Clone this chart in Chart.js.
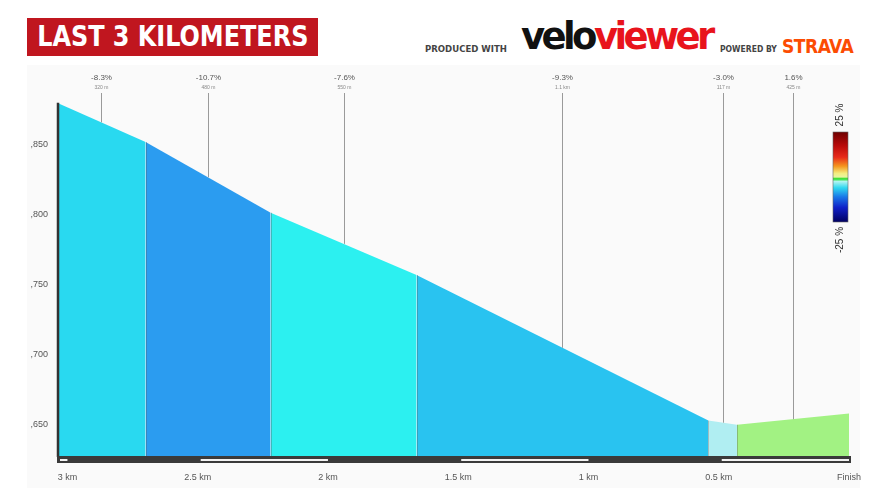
<!DOCTYPE html>
<html>
<head>
<meta charset="utf-8">
<script src="https://cdn.jsdelivr.net/npm/chart.js@4/dist/chart.umd.min.js"></script>
<style>
  html, body { margin: 0; padding: 0; background: #fff; }
  #wrap { position: relative; width: 873px; height: 488px; overflow: hidden; background: #fff; }
  #panel { position: absolute; left: 27px; top: 65px; width: 833px; height: 423px; background: #fafafa; }
  #title { position: absolute; left: 27px; top: 18px; width: 291px; height: 38px; background: #c0161f;
           color: #fff; font: bold 28px 'DejaVu Sans Condensed', sans-serif;
           line-height: 38px; text-align: center; overflow: hidden; }
  #title span { display: inline-block; transform: scaleX(0.95); transform-origin: center; white-space: nowrap; }
  .small { position: absolute; font: bold 9.5px 'DejaVu Sans Condensed', sans-serif; color: #444; }
  #velo { position: absolute; left: 521px; top: 15px; font: 900 37px 'DejaVu Sans', sans-serif; letter-spacing: -3.6px; }
  #strava { position: absolute; left: 782px; top: 35px; font: bold 19px 'DejaVu Sans Condensed', sans-serif; color: #fc4c02; letter-spacing: -0.5px; }
  canvas { position: absolute; left: 0; top: 0; }
</style>
</head>
<body>
<div id="wrap">
  <div id="panel"></div>
  <div id="title"><span>LAST 3 KILOMETERS</span></div>
  <div class="small" style="left:425px; top:43px;">PRODUCED WITH</div>
  <div id="velo"><span style="color:#111">velo</span><span style="color:#e8141c">viewer</span></div>
  <div class="small" style="left:720px; top:44px; font-size:8.5px;">POWERED BY</div>
  <div id="strava">STRAVA</div>
  <canvas id="c" width="873" height="488"></canvas>
</div>
<script>
// profile: distance to finish (km) and elevation (m)
const PROFILE_KM = [3.04, 2.70, 2.22, 1.66, 0.54, 0.43, 0];
const PROFILE_ELEV = [1880, 1852, 1801.5, 1757, 1653, 1650, 1658];

// one entry per segment
const SEG_COLORS = ['#29d9f0', '#2b9cf0', '#2cf0f0', '#29c3f0', '#b0eef2', '#a2f283'];
const SEG_GRADE = ['-8.3%', '-10.7%', '-7.6%', '-9.3%', '-3.0%', '1.6%'];
const SEG_LEN = ['320 m', '480 m', '550 m', '1.1 km', '117 m', '425 m'];

const X_TICKS = [3, 2.5, 2, 1.5, 1, 0.5, 0];
const X_LABELS = ['3 km', '2.5 km', '2 km', '1.5 km', '1 km', '0.5 km', 'Finish'];
const Y_TICKS = [1650, 1700, 1750, 1800, 1850];
const Y_LABELS = [',650', ',700', ',750', ',800', ',850'];

const datasets = SEG_COLORS.map((col, i) => ({
    data: [
        { x: PROFILE_KM[i], y: PROFILE_ELEV[i] },
        { x: PROFILE_KM[i + 1], y: PROFILE_ELEV[i + 1] }
    ],
    backgroundColor: col,
    borderWidth: 0,
    pointRadius: 0,
    fill: 'start',
    tension: 0
}));

const profileExtras = {
    id: 'profileExtras',
    afterDatasetsDraw(chart) {
        const { ctx, chartArea: a, scales: { x, y } } = chart;
        ctx.save();

        // segment dividers
        ctx.strokeStyle = 'rgba(90,90,90,0.35)';
        ctx.lineWidth = 1;
        for (let i = 1; i < PROFILE_KM.length - 1; i++) {
            const px = Math.round(x.getPixelForValue(PROFILE_KM[i])) + 0.5;
            ctx.beginPath();
            ctx.moveTo(px, y.getPixelForValue(PROFILE_ELEV[i]));
            ctx.lineTo(px, a.bottom);
            ctx.stroke();
        }
        // start edge
        ctx.strokeStyle = '#333';
        ctx.lineWidth = 2.5;
        const sx = x.getPixelForValue(PROFILE_KM[0]) + 1;
        ctx.beginPath();
        ctx.moveTo(sx, y.getPixelForValue(PROFILE_ELEV[0]));
        ctx.lineTo(sx, a.bottom);
        ctx.stroke();

        // segment annotations
        for (let i = 0; i < SEG_GRADE.length; i++) {
            const midKm = (PROFILE_KM[i] + PROFILE_KM[i + 1]) / 2;
            const midEl = (PROFILE_ELEV[i] + PROFILE_ELEV[i + 1]) / 2;
            const px = Math.round(x.getPixelForValue(midKm)) + 0.5;
            const py = y.getPixelForValue(midEl);
            ctx.strokeStyle = '#9a9a9a';
            ctx.lineWidth = 1;
            ctx.beginPath();
            ctx.moveTo(px, 93);
            ctx.lineTo(px, py);
            ctx.stroke();
            ctx.fillStyle = '#555';
            ctx.textAlign = 'center';
            ctx.textBaseline = 'middle';
            ctx.font = '8px "Liberation Sans", sans-serif';
            ctx.fillText(SEG_GRADE[i], px, 78);
            ctx.fillStyle = '#888';
            ctx.font = '5px "Liberation Sans", sans-serif';
            ctx.fillText(SEG_LEN[i], px, 88);
        }

        // distance bar along the bottom
        ctx.fillStyle = '#3a3a3a';
        ctx.fillRect(a.left, a.bottom - 1, a.right - a.left + 2, 7);
        ctx.fillStyle = '#f2f2f2';
        const stripes = [[PROFILE_KM[0], X_TICKS[0]]];
        for (let i = 1; i < X_TICKS.length - 1; i += 2) stripes.push([X_TICKS[i], X_TICKS[i + 1]]);
        stripes.forEach(([k0, k1]) => {
            const x0 = x.getPixelForValue(k0) + 3;
            const x1 = x.getPixelForValue(k1);
            ctx.fillRect(x0, a.bottom + 2, x1 - x0, 2);
        });

        // gradient colour key
        const kx = 833, ky = 132, kw = 15, kh = 90;
        const g = ctx.createLinearGradient(0, ky, 0, ky + kh);
        g.addColorStop(0, '#6e0000');
        g.addColorStop(0.15, '#b80a0a');
        g.addColorStop(0.28, '#e82a1a');
        g.addColorStop(0.38, '#f5961e');
        g.addColorStop(0.46, '#f2ee80');
        g.addColorStop(0.5, '#e8f4a0');
        g.addColorStop(0.52, '#22dd22');
        g.addColorStop(0.55, '#b0f4f0');
        g.addColorStop(0.62, '#30d8f0');
        g.addColorStop(0.72, '#1a78e8');
        g.addColorStop(0.84, '#1020c8');
        g.addColorStop(1, '#000060');
        ctx.fillStyle = g;
        ctx.fillRect(kx, ky, kw, kh);
        ctx.strokeStyle = '#666';
        ctx.lineWidth = 0.6;
        ctx.strokeRect(kx, ky, kw, kh);
        ctx.fillStyle = '#333';
        ctx.font = '10px "Liberation Sans", sans-serif';
        ctx.textAlign = 'center';
        ctx.textBaseline = 'middle';
        [['25 %', 115], ['-25 %', 240]].forEach(([t, cy]) => {
            ctx.save();
            ctx.translate(kx + kw / 2, cy);
            ctx.rotate(-Math.PI / 2);
            ctx.fillText(t, 0, 0);
            ctx.restore();
        });

        ctx.restore();
    }
};

new Chart(document.getElementById('c'), {
    type: 'line',
    data: { datasets },
    options: {
        responsive: false,
        animation: false,
        layout: { padding: { top: 65, right: 24, bottom: 0, left: 0 } },
        plugins: { legend: { display: false }, tooltip: { enabled: false } },
        scales: {
            x: {
                type: 'linear',
                reverse: true,
                min: 0,
                max: PROFILE_KM[0],
                grid: { display: false, drawTicks: false },
                border: { display: false },
                afterBuildTicks: s => { s.ticks = X_TICKS.map(v => ({ value: v })); },
                afterFit: s => { s.height = 31; s.paddingRight = 0; s.paddingLeft = 0; },
                ticks: {
                    padding: 15,
                    maxRotation: 0,
                    autoSkip: false,
                    color: '#555',
                    font: { family: 'Liberation Sans', size: 9 },
                    callback: v => X_LABELS[X_TICKS.indexOf(v)]
                }
            },
            y: {
                min: 1627,
                max: 1907,
                grid: { display: false, drawTicks: false },
                border: { display: false },
                afterBuildTicks: s => { s.ticks = Y_TICKS.map(v => ({ value: v })); },
                afterFit: s => { s.width = 57; },
                ticks: {
                    padding: 9,
                    color: '#555',
                    font: { family: 'Liberation Sans', size: 9 },
                    callback: v => Y_LABELS[Y_TICKS.indexOf(v)]
                }
            }
        }
    },
    plugins: [profileExtras]
});
</script>
</body>
</html>
